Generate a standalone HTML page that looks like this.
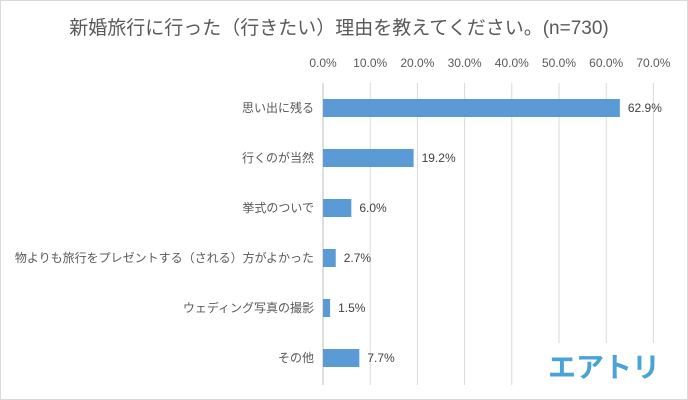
<!DOCTYPE html>
<html><head><meta charset="utf-8"><style>
body{margin:0;background:#fff;}
#c{position:relative;width:688px;height:400px;overflow:hidden;font-family:"Liberation Sans","Noto Sans CJK JP",sans-serif;}
</style></head><body>
<div id="c">
<svg id="s" width="688" height="400" xmlns="http://www.w3.org/2000/svg">
<rect x="0.5" y="0.5" width="687" height="399" fill="#fff" stroke="#d9d9d9"/>
<text x="339" y="34" text-anchor="middle" font-size="19" fill="#595959" font-family="Liberation Sans, Noto Sans CJK JP, sans-serif">新婚旅行に行った（行きたい）理由を教えてください。(n=730)</text>
<g id="grid"></g><g id="bars"></g>
<rect x="548" y="343" width="112" height="42" fill="#fff"/>
<text x="604" y="377" text-anchor="middle" font-size="28" font-weight="bold" fill="#4aa3d8" font-family="Liberation Sans, Noto Sans CJK JP, sans-serif">エアトリ</text>
</svg>
</div>
<script>
const categories=["思い出に残る","行くのが当然","挙式のついで","物よりも旅行をプレゼントする（される）方がよかった","ウェディング写真の撮影","その他"];
const values=[62.9,19.2,6.0,2.7,1.5,7.7];
const ticks=[0,10,20,30,40,50,60,70];
const NS="http://www.w3.org/2000/svg";
const x0=323,xPer=4.72,yTop=83,yBot=385,band=50,y0=108;
const xs=v=>x0+v*xPer;
const ys=i=>y0+i*band;
const g=document.getElementById('grid'),b=document.getElementById('bars');
function mk(t,a,p){const e=document.createElementNS(NS,t);for(const k in a)e.setAttribute(k,a[k]);p.appendChild(e);return e;}
ticks.forEach(t=>{
 const l=mk('line',{x1:xs(t),x2:xs(t),y1:yTop,y2:yBot,stroke:t===0?'#bfbfbf':'#d9d9d9'},g);
 
 
 const tx=mk('text',{x:xs(t),y:67,'text-anchor':'middle','font-size':12,fill:'#595959'},g);
 tx.textContent=t.toFixed(1)+'%';
 
 
});
categories.forEach((c,i)=>{
 const y=ys(i);
 const r=mk('rect',{x:x0,y:y-9,width:values[i]*xPer,height:18,fill:'#5b9bd5'},b);
 
 
 const v=mk('text',{x:xs(values[i])+8,y:y+4,'font-size':12,fill:'#404040'},b);
 v.textContent=values[i].toFixed(1)+'%';
 
 
 const lb=mk('text',{x:314,y:y+4,'text-anchor':'end','font-size':12,fill:'#595959'},b);
 lb.textContent=c;
 
 
});
</script>
</body></html>
